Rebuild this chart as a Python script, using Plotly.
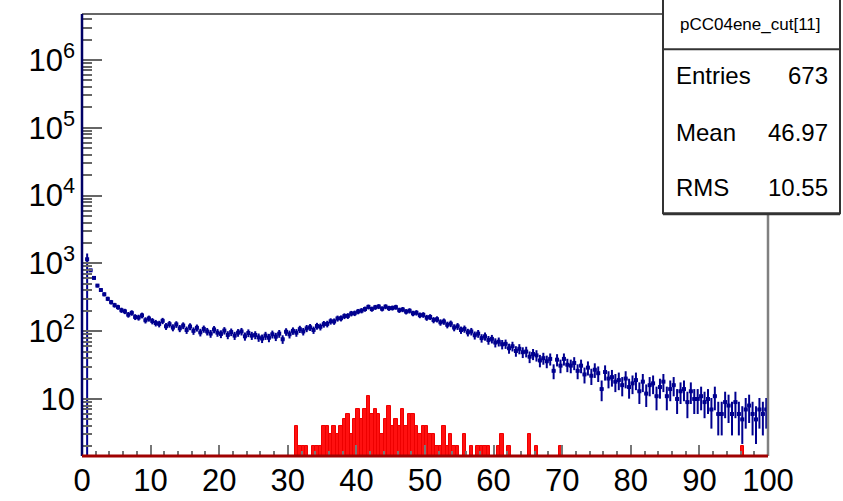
import math
import plotly.graph_objects as go

# ---------------- data ----------------
bin_width = 0.5
n_bins = 200
bin_centers = [bin_width * (i + 0.5) for i in range(n_bins)]

# blue histogram (per 0.5-wide bin, x = 0 .. 100)
blue_values = [
    None, 1150, 790, 610, 470, 405, 350, 300, 268, 242,
    226, 204, 196, 175, 186, 162, 159, 171, 145, 154,
    141, 132, 128, 142, 118, 127, 113, 126, 110, 121,
    104, 117, 101, 112, 96, 108, 99, 92, 106, 95,
    91, 102, 88, 97, 86, 95, 99, 84, 94, 86,
    88, 81, 78, 86, 80, 90, 83, 92, 76, 98,
    90, 101, 95, 107, 99, 110, 114, 104, 119, 116,
    127, 128, 140, 139, 154, 155, 167, 168, 182, 184,
    195, 201, 212, 228, 212, 225, 231, 214, 230, 218,
    220, 226, 204, 209, 194, 200, 183, 187, 172, 174,
    158, 162, 146, 150, 135, 139, 124, 129, 113, 118,
    104, 108, 96, 99, 87, 92, 79, 84, 74, 77,
    68, 70, 64, 65, 56, 60, 51, 55, 49, 50,
    42, 46, 44, 37, 40, 36, 39, 26, 38, 31,
    39, 32, 31, 34, 26, 31, 23, 29, 22, 27,
    24, 14, 25, 20, 21, 18, 19, 16, 20, 15,
    17, 19, 13, 18, 12, 16, 17, 11, 15, 18,
    11, 14, 16, 10, 13, 14, 9, 13, 10, 10,
    11, 9, 10, 7, 11, 6, 6, 9, 8, 6,
    9, 6, 5, 7, 8, 6, 5, 7, 6, 7,
]

# red histogram (pCC04ene_cut[11]); bins below x = 30 are empty
red_values_low = [0] * 60
red_values_high = [
    0, 1, 4, 2, 2, 2, 1, 2, 2, 2,
    4, 4, 3, 4, 3, 4, 5, 6, 3, 5,
    7, 5, 7, 11, 6, 7, 6, 3, 5, 8,
    4, 5, 4, 7, 4, 6, 6, 4, 3, 4,
    4, 3, 3, 2, 2, 4, 2, 3, 2, 2,
    1, 3, 1, 2, 1, 2, 2, 2, 2, 1,
    1, 2, 3, 1, 2, 1, 1, 0, 1, 1,
    3, 1, 2, 1, 0, 1, 1, 0, 1, 2,
    1, 0, 1, 0, 1, 0, 0, 1, 0, 1,
    0, 1, 0, 0, 1, 0, 1, 0, 0, 1,
    0, 0, 1, 0, 0, 1, 0, 0, 0, 1,
    0, 0, 1, 0, 0, 0, 1, 0, 0, 0,
    0, 1, 0, 0, 0, 0, 0, 0, 0, 0,
    1, 0, 2, 0, 0, 1, 0, 0, 0, 0,
]
red_values = red_values_low + red_values_high

stats_title = "pCC04ene_cut[11]"
stats_labels = ["Entries", "Mean", "RMS"]
stats_values = ["673", "46.97", "10.55"]

y_major = [10, 100, 1000, 10000, 100000, 1000000]
y_major_text = ["10", "10<sup>2</sup>", "10<sup>3</sup>", "10<sup>4</sup>",
                "10<sup>5</sup>", "10<sup>6</sup>"]
y_minor = [m * 10 ** d for d in range(0, 7) for m in range(2, 10)]
x_major = [0, 10, 20, 30, 40, 50, 60, 70, 80, 90, 100]

# ---------------- figure ----------------
W, H = 843, 510
L, R, T, B = 82, 75, 14, 46
plot_w = W - L - R
plot_h = H - T - B
SY = 501 / 510  # vertical scale observed in the rendered photo


def xp(px):
    return (px - L) / plot_w


def yp(py):
    return (H - B - py / SY) / plot_h


blue_err_plus = [math.sqrt(1.6 * v) if v else 0 for v in blue_values]
blue_err_minus = list(blue_err_plus)
blue_err_plus[1] = 250
blue_err_minus[1] = blue_values[1]

red_plot = [v if v > 0 else None for v in red_values]

blue = "#00008f"

fig = go.Figure()
fig.add_trace(go.Bar(
    x=bin_centers, y=red_plot, width=bin_width,
    marker=dict(color="#ff1010", line=dict(color="#ee0000", width=1)),
    hoverinfo="skip",
))
fig.add_trace(go.Scatter(
    x=bin_centers, y=blue_values, mode="markers",
    marker=dict(symbol="square", size=4, color=blue),
    error_y=dict(type="data", array=blue_err_plus, arrayminus=blue_err_minus,
                 symmetric=False, color=blue, thickness=2, width=0),
    error_x=dict(type="constant", value=bin_width / 2, color=blue,
                 thickness=2, width=0),
    hoverinfo="skip",
))

axis_font = dict(family="Liberation Sans, Arial, Helvetica, sans-serif", size=31, color="#000")

fig.update_layout(
    width=W, height=H, autosize=False,
    margin=dict(l=L, r=R, t=T, b=B, pad=0),
    paper_bgcolor="white", plot_bgcolor="white",
    showlegend=False, bargap=0,
    xaxis=dict(
        range=[0, 100], showgrid=False, zeroline=False, showline=False,
        tickmode="array", tickvals=x_major, ticktext=[str(v) for v in x_major],
        ticks="inside", ticklen=11, tickwidth=2, tickcolor="#777",
        minor=dict(tickmode="linear", tick0=0, dtick=2, ticks="inside",
                   ticklen=5, tickwidth=2, tickcolor="#777", showgrid=False),
        tickfont=axis_font, ticklabelstandoff=3,
    ),
    yaxis=dict(
        type="log", range=[0.159, 6.678], showgrid=False, zeroline=False, showline=False,
        tickmode="array", tickvals=y_major, ticktext=y_major_text,
        ticks="inside", ticklen=20, tickwidth=2, tickcolor="#666",
        minor=dict(tickmode="array", tickvals=y_minor, ticks="inside",
                   ticklen=10, tickwidth=2, tickcolor="#666", showgrid=False),
        tickfont=axis_font, ticklabelstandoff=6,
    ),
)

shapes = [
    # frame
    dict(type="line", xref="paper", yref="paper", x0=0, x1=1, y0=1, y1=1,
         line=dict(color="#666", width=2)),
    dict(type="line", xref="paper", yref="paper", x0=1, x1=1, y0=0, y1=1,
         line=dict(color="#808080", width=2.5)),
    dict(type="line", xref="paper", yref="paper", x0=0, x1=0, y0=0, y1=1,
         line=dict(color="#000066", width=2.5)),
    dict(type="line", xref="paper", yref="paper", x0=0, x1=1, y0=0, y1=0,
         line=dict(color="#a00000", width=3)),
    # stats box
    dict(type="rect", xref="paper", yref="paper",
         x0=xp(663), x1=xp(840), y0=yp(213), y1=yp(-5),
         fillcolor="white", line=dict(color="#333", width=2)),
    dict(type="line", xref="paper", yref="paper", x0=xp(663), x1=xp(840),
         y0=yp(214), y1=yp(214), line=dict(color="#333", width=2)),
    dict(type="line", xref="paper", yref="paper", x0=xp(663), x1=xp(840),
         y0=yp(49), y1=yp(49), line=dict(color="#333", width=2)),
]
fig.update_layout(shapes=shapes)

stat_font = dict(family="Liberation Sans, Arial, Helvetica, sans-serif", size=24, color="#000")
ann = [dict(xref="paper", yref="paper", x=xp(750), y=yp(24), text=stats_title,
            showarrow=False, xanchor="center", yanchor="middle",
            font=dict(family="Liberation Sans Narrow, Liberation Sans, Arial, sans-serif",
                      size=17, color="#000"))]
row_y = [75, 132, 187]
for lab, val, ry in zip(stats_labels, stats_values, row_y):
    ann.append(dict(xref="paper", yref="paper", x=xp(674), y=yp(ry), text=lab,
                    showarrow=False, xanchor="left", yanchor="middle", font=stat_font))
    ann.append(dict(xref="paper", yref="paper", x=xp(830), y=yp(ry), text=val,
                    showarrow=False, xanchor="right", yanchor="middle", font=stat_font))
fig.update_layout(annotations=ann)

fig.write_html(
    "out.html",
    config={"displayModeBar": False, "responsive": False},
    post_script="document.body.style.margin='0';document.body.style.overflow='hidden';",
)
